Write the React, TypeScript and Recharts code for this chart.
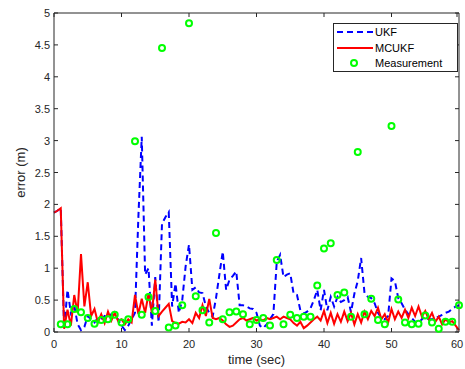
import React from "react"
import {
  ComposedChart,
  Line,
  Scatter,
  XAxis,
  YAxis,
} from "recharts"

// time axis for the filter outputs (0.5 s steps)
const times = Array.from({ length: 121 }, (_, i) => i * 0.5)

const ukf = [
  1.87, 1.9, 1.94, 0.05, 0.66, 0.3, 0.42, 0.12, 0.03, 0.08,
  0.25, 0.2, 0.15, 0.22, 0.2, 0.25, 0.22, 0.28, 0.25, 0.2,
  0.1, 0.03, 0.1, 0.2, 0.3, 1.8, 3.06, 0.9, 1.0, 0.1,
  0.86, 0.15, 1.7, 1.8, 1.88, 0.4, 0.76, 0.3, 0.5, 1.03,
  1.37, 0.66, 0.7, 0.62, 0.61, 0.4, 0.3, 0.24, 0.53, 0.9,
  1.26, 0.66, 0.82, 0.88, 0.95, 0.42, 0.42, 0.4, 0.37, 0.36,
  0.3, 0.1, 0.06, 0.12, 0.2, 0.28, 1.1, 1.21, 0.86, 0.9,
  0.92, 0.6, 0.58, 0.34, 0.29, 0.32, 0.37, 0.5, 0.66, 0.34,
  0.66, 0.34, 0.55, 0.4, 0.55, 0.47, 0.5, 0.55, 0.31, 0.6,
  0.8, 1.16, 0.61, 0.55, 0.53, 0.45, 0.3, 0.22, 0.2, 0.25,
  0.84, 0.8, 0.53, 0.45, 0.35, 0.28, 0.22, 0.16, 0.14, 0.2,
  0.24, 0.2, 0.2, 0.22, 0.24, 0.27, 0.3, 0.32, 0.36, 0.4,
  0.42,
]

const mcukf = [
  1.87, 1.9, 1.94, 0.05, 0.35, 0.1, 0.58, 0.3, 1.22, 0.4,
  0.78, 0.25, 0.36, 0.15, 0.28, 0.14, 0.32, 0.18, 0.3, 0.17,
  0.2, 0.12, 0.2, 0.15, 0.58, 0.28, 0.52, 0.3, 0.6, 0.3,
  0.82, 0.25, 0.32, 0.38, 0.44, 0.17, 0.14, 0.13, 0.16, 0.15,
  0.2, 0.14, 0.3, 0.22, 0.42, 0.25, 0.52, 0.22, 0.2, 0.22,
  0.18, 0.12, 0.08, 0.1, 0.15, 0.2, 0.22, 0.18, 0.2, 0.22,
  0.18, 0.2, 0.18, 0.22, 0.2, 0.22, 0.24, 0.2, 0.24, 0.22,
  0.2, 0.14, 0.1, 0.16, 0.06, 0.1, 0.15, 0.2, 0.24, 0.18,
  0.33, 0.14, 0.3, 0.13, 0.28, 0.16, 0.32, 0.17, 0.3, 0.12,
  0.28, 0.15, 0.32, 0.2, 0.33, 0.25, 0.38, 0.2, 0.28, 0.15,
  0.36, 0.2, 0.32, 0.22, 0.35, 0.22, 0.38, 0.25, 0.4, 0.24,
  0.33, 0.2, 0.3, 0.16, 0.24, 0.12, 0.2, 0.15, 0.17, 0.1,
  0.03,
]

// raw measurement error, one per second (t = 1..60)
const measTimes = Array.from({ length: 60 }, (_, i) => i + 1)
const measurement = [
  0.12, 0.12, 0.36, 0.31, 0.22, 0.13, 0.19, 0.2, 0.27, 0.15,
  0.2, 2.99, 0.27, 0.55, 0.33, 4.45, 0.07, 0.1, 0.42, 4.84,
  0.56, 0.34, 0.15, 1.55, 0.2, 0.31, 0.32, 0.28, 0.12, 0.19,
  0.22, 0.1, 1.13, 0.12, 0.27, 0.22, 0.24, 0.24, 0.73, 1.31,
  1.39, 0.58, 0.62, 0.24, 2.82, 0.28, 0.52, 0.19, 0.12, 3.23,
  0.51, 0.15, 0.12, 0.13, 0.26, 0.15, 0.05, 0.16, 0.16, 0.42,
]

const xTicks = [0, 10, 20, 30, 40, 50, 60]
const yTicks = [0, 0.5, 1, 1.5, 2, 2.5, 3, 3.5, 4, 4.5, 5]

const lineData = times.map((t, i) => ({ t, ukf: ukf[i], mcukf: mcukf[i] }))
const measData = measTimes.map((t, i) => ({ t, err: measurement[i] }))

const axisColor = "#262626"
const font = "'Liberation Sans', Arial, sans-serif"

const BottomTick = (props: any) => {
  const { x, y, payload } = props
  return (
    <g>
      <line x1={x} y1={y} x2={x} y2={y - 4} stroke={axisColor} />
      <text x={x} y={y + 16} textAnchor="middle" fontSize={11} fill={axisColor} fontFamily={font}>
        {payload.value}
      </text>
    </g>
  )
}

const LeftTick = (props: any) => {
  const { x, y, payload } = props
  return (
    <g>
      <line x1={x} y1={y} x2={x + 4} y2={y} stroke={axisColor} />
      <text x={x - 4} y={y + 4} textAnchor="end" fontSize={11} fill={axisColor} fontFamily={font}>
        {payload.value}
      </text>
    </g>
  )
}

const TopTick = (props: any) => {
  const { x, y } = props
  return <line x1={x} y1={y} x2={x} y2={y + 4} stroke={axisColor} />
}

const RightTick = (props: any) => {
  const { x, y } = props
  return <line x1={x} y1={y} x2={x - 4} y2={y} stroke={axisColor} />
}

const Ring = (props: any) => {
  const { cx, cy } = props
  return <circle cx={cx} cy={cy} r={3} fill="none" stroke="#00ff00" strokeWidth={2} />
}

const LegendBox = () => (
  <svg width={126} height={50} style={{ position: "absolute", left: 333, top: 23 }}>
    <rect x={0.5} y={0.5} width={124} height={48} fill="#fff" stroke={axisColor} />
    <line x1={4} y1={9} x2={40} y2={9} stroke="#0000ff" strokeWidth={2} strokeDasharray="6 4" />
    <text x={42} y={13} fontSize={11} fontFamily={font} fill="#000">UKF</text>
    <line x1={4} y1={25} x2={40} y2={25} stroke="#ff0000" strokeWidth={2} />
    <text x={42} y={29} fontSize={11} fontFamily={font} fill="#000">MCUKF</text>
    <circle cx={21} cy={40} r={3} fill="none" stroke="#00ff00" strokeWidth={2} />
    <text x={42} y={44} fontSize={11} fontFamily={font} fill="#000">Measurement</text>
  </svg>
)

export default function App() {
  return (
    <div style={{ position: "absolute", left: 0, top: 0, width: 465, height: 369, background: "#fff" }}>
      <ComposedChart
        width={465}
        height={369}
        data={lineData}
        margin={{ top: 12, right: 5, left: 0, bottom: 0 }}
      >
        <XAxis
          dataKey="t"
          type="number"
          domain={[0, 60]}
          ticks={xTicks}
          height={37}
          tickSize={0}
          tickMargin={0}
          tickLine={false}
          tick={<BottomTick />}
          axisLine={{ stroke: axisColor }}
          label={{ value: "time (sec)", position: "insideBottom", offset: 5, fontSize: 13, fill: axisColor, fontFamily: font }}
        />
        <XAxis
          xAxisId="top"
          dataKey="t"
          orientation="top"
          type="number"
          domain={[0, 60]}
          ticks={xTicks}
          height={1}
          tickSize={0}
          tickMargin={0}
          tickLine={false}
          tick={<TopTick />}
          axisLine={{ stroke: axisColor }}
        />
        <YAxis
          type="number"
          domain={[0, 5]}
          ticks={yTicks}
          width={54}
          tickSize={0}
          tickMargin={0}
          tickLine={false}
          tick={<LeftTick />}
          axisLine={{ stroke: axisColor }}
          label={{ value: "error (m)", angle: -90, position: "insideLeft", offset: 20, fontSize: 13, fill: axisColor, fontFamily: font, style: { textAnchor: "middle" } }}
        />
        <YAxis
          yAxisId="right"
          orientation="right"
          type="number"
          domain={[0, 5]}
          ticks={yTicks}
          width={1}
          tickSize={0}
          tickMargin={0}
          tickLine={false}
          tick={<RightTick />}
          axisLine={{ stroke: axisColor }}
        />
        {/* invisible series so the top/right box axes get drawn */}
        <Line
          xAxisId="top"
          yAxisId="right"
          dataKey="ukf"
          stroke="none"
          dot={false}
          legendType="none"
          isAnimationActive={false}
        />
        <Line
          dataKey="ukf"
          name="UKF"
          type="linear"
          stroke="#0000ff"
          strokeWidth={2}
          strokeDasharray="6 4"
          dot={false}
          isAnimationActive={false}
        />
        <Line
          dataKey="mcukf"
          name="MCUKF"
          type="linear"
          stroke="#ff0000"
          strokeWidth={2}
          dot={false}
          isAnimationActive={false}
        />
        <Scatter
          data={measData}
          dataKey="err"
          name="Measurement"
          shape={<Ring />}
          isAnimationActive={false}
        />
      </ComposedChart>
      <LegendBox />
    </div>
  )
}
